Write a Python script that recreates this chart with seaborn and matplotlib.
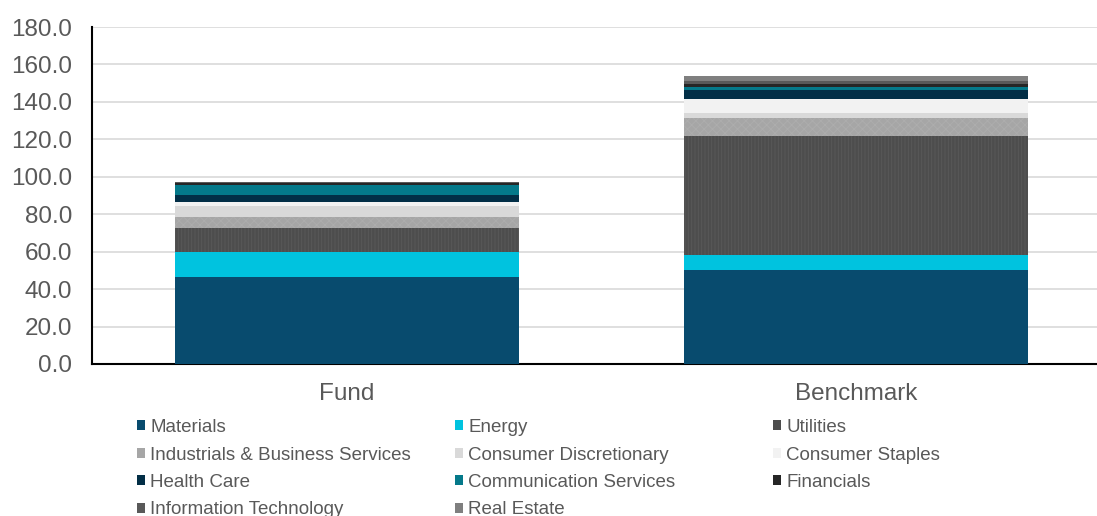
import matplotlib
matplotlib.use("Agg")
import matplotlib.pyplot as plt
import matplotlib.patches as mpatches
import numpy as np
import seaborn as sns

# Portfolio vs benchmark sector weights, stacked bottom to top
categories = ["Fund", "Benchmark"]
sectors = [
    "Materials", "Energy", "Utilities",
    "Industrials & Business Services", "Consumer Discretionary", "Consumer Staples",
    "Health Care", "Communication Services", "Financials",
    "Information Technology", "Real Estate",
]
fund = [46.5, 13.5, 12.6, 5.9, 5.9, 2.1, 3.8, 5.3, 1.2, 0.4, 0.0]
benchmark = [50.2, 8.0, 63.6, 9.6, 2.7, 7.5, 4.8, 1.6, 1.5, 1.5, 2.7]
colors = [
    "#084B6E", "#00C3DF", "#4D4D4D",
    "#A6A6A6", "#D9D9D9", "#F2F2F2",
    "#022E46", "#04798A", "#262626",
    "#595959", "#7F7F7F",
]
hatches = {"Utilities": ("|||||", "#5A5A5A"),
           "Industrials & Business Services": ("xxxx", "#ADADAD")}
y_ticks = [0, 20, 40, 60, 80, 100, 120, 140, 160, 180]

sns.set_theme(style="white")
plt.rcParams["font.family"] = ["Liberation Sans", "DejaVu Sans"]
plt.rcParams["hatch.linewidth"] = 0.6

W, H, DPI = 1097, 516, 100
fig = plt.figure(figsize=(W / DPI, H / DPI), dpi=DPI)
ax = fig.add_axes([92 / W, 1 - 364 / H, 1019 / W, (364 - 27) / H])

text_grey = "#595959"
bottoms = np.zeros(len(categories))
for i, sector in enumerate(sectors):
    vals = np.array([fund[i], benchmark[i]])
    kw = dict(linewidth=0)
    if sector in hatches:
        kw["hatch"], kw["edgecolor"] = hatches[sector]
    sns.barplot(x=categories, y=vals, bottom=bottoms, color=colors[i],
                width=0.675, saturation=1, ax=ax, zorder=3, **kw)
    bottoms = bottoms + vals

ax.set_xlim(-0.5, 1.5)
ax.set_ylim(0, 180)
ax.set_yticks(y_ticks)
ax.set_yticklabels([f"{v:.1f}" for v in y_ticks])
ax.yaxis.grid(True, color="#D9D9D9", linewidth=1.2, zorder=0)
ax.xaxis.grid(False)
ax.set_axisbelow(True)
for side in ("top", "right"):
    ax.spines[side].set_visible(False)
for side in ("left", "bottom"):
    ax.spines[side].set_color("black")
    ax.spines[side].set_linewidth(1.5)
ax.tick_params(axis="y", length=0, pad=14.4, labelsize=17.5, labelcolor=text_grey)
ax.tick_params(axis="x", length=0, pad=13.5, labelsize=17.5, labelcolor=text_grey)
ax.set_xlabel("")
ax.set_ylabel("")

# Legend laid out in three fixed-width columns, filled row by row
col_x = [137, 455, 773]
for c, x0 in enumerate(col_x):
    idx = list(range(c, len(sectors), 3))
    handles = [mpatches.Patch(facecolor=colors[i], edgecolor="none") for i in idx]
    labels = [sectors[i] for i in idx]
    fig.legend(handles, labels, loc="upper left",
               bbox_to_anchor=(x0 / W, 1 - 419 / H),
               frameon=False, fontsize=13.5, borderpad=0, borderaxespad=0,
               handlelength=0.42, handleheight=0.42, handletextpad=0.3,
               labelspacing=0.56, labelcolor=text_grey)

fig.savefig("out.png", dpi=DPI)
